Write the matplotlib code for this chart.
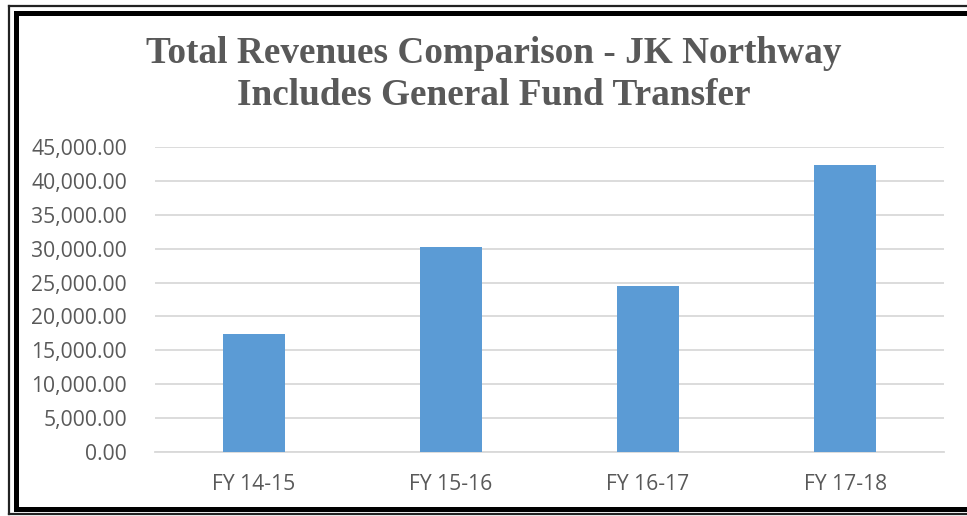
import matplotlib
matplotlib.use("Agg")
import matplotlib.pyplot as plt
from matplotlib.lines import Line2D
from matplotlib.ticker import FuncFormatter, MultipleLocator

categories = ["FY 14-15", "FY 15-16", "FY 16-17", "FY 17-18"]
revenues = [17400, 30250, 24500, 42350]
title_lines = ["Total Revenues Comparison - JK Northway", "Includes General Fund Transfer"]

W, H = 967, 516
fig = plt.figure(figsize=(W / 100, H / 100), dpi=100)
fig.patch.set_facecolor("white")

def fx(x):
    return x / W

def fy(y):
    return 1 - y / H

ax = fig.add_axes([fx(155), fy(452), fx(944) - fx(155), fy(147) - fy(452)])
ax.bar(range(len(categories)), revenues, width=0.315, color="#5B9BD5", zorder=3)
ax.set_xlim(-0.5, len(categories) - 0.5)
ax.set_ylim(0, 45000)
ax.yaxis.set_major_locator(MultipleLocator(5000))
ax.yaxis.set_major_formatter(FuncFormatter(lambda v, p: f"{v:,.2f}"))
ax.set_xticks(range(len(categories)))
ax.set_xticklabels(categories)
ax.grid(axis="y", color="#D9D9D9", linewidth=1.3, zorder=0)
for s in ["top", "right", "left"]:
    ax.spines[s].set_visible(False)
ax.spines["bottom"].set_color("#D9D9D9")
ax.spines["bottom"].set_linewidth(1.3)
ax.tick_params(axis="both", length=0, labelcolor="#595959", labelsize=15.2)
ax.tick_params(axis="y", pad=20)
ax.tick_params(axis="x", pad=16)
for lab in ax.get_xticklabels() + ax.get_yticklabels():
    lab.set_fontfamily("Open Sans")

fig.text(fx(494), fy(63), title_lines[0], ha="center", va="baseline",
         fontfamily="Liberation Serif", fontweight="bold", fontsize=26.8, color="#595959")
fig.text(fx(494), fy(105), title_lines[1], ha="center", va="baseline",
         fontfamily="Liberation Serif", fontweight="bold", fontsize=26.8, color="#595959")

# double frame
def frame(x0, y0, y1, lw, color):
    fig.add_artist(Line2D([fx(x0), fx(x0)], [fy(y0), fy(y1)], transform=fig.transFigure,
                          color=color, linewidth=lw, solid_capstyle="projecting"))
    fig.add_artist(Line2D([fx(x0), fx(W + 10)], [fy(y0), fy(y0)], transform=fig.transFigure,
                          color=color, linewidth=lw, solid_capstyle="projecting"))
    fig.add_artist(Line2D([fx(x0), fx(W + 10)], [fy(y1), fy(y1)], transform=fig.transFigure,
                          color=color, linewidth=lw, solid_capstyle="projecting"))

frame(8.5, 5.5, 514, 1.6, "#222222")
frame(15.8, 12.5, 509, 3.6, "black")

fig.savefig("out.png", dpi=100)
